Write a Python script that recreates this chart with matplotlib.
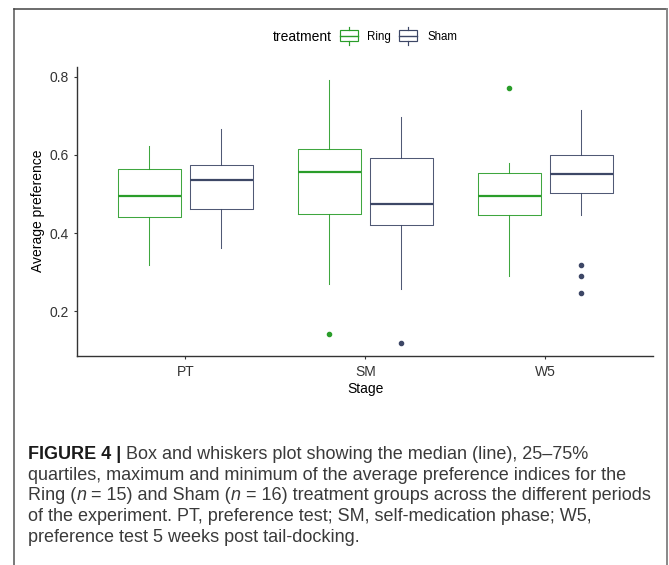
import matplotlib
matplotlib.use("Agg")
import matplotlib.pyplot as plt
from matplotlib.lines import Line2D
from matplotlib.patches import Rectangle

# ---------------- data ----------------
stages = ["PT", "SM", "W5"]
treatments = ["Ring", "Sham"]
y_ticks = [0.2, 0.4, 0.6, 0.8]
y_ticklabels = ["0.2", "0.4", "0.6", "0.8"]

ring_whislo = [0.319, 0.270, 0.290]
ring_q1 = [0.440, 0.449, 0.447]
ring_med = [0.495, 0.557, 0.495]
ring_q3 = [0.563, 0.615, 0.553]
ring_whishi = [0.622, 0.791, 0.580]
ring_fliers = [[], [0.142], [0.771]]

sham_whislo = [0.362, 0.256, 0.447]
sham_q1 = [0.461, 0.420, 0.503]
sham_med = [0.536, 0.474, 0.551]
sham_q3 = [0.575, 0.591, 0.600]
sham_whishi = [0.667, 0.696, 0.716]
sham_fliers = [[], [0.118], [0.319, 0.291, 0.247]]

# caption: list of lines, each a list of (text, style) runs
caption_lines = [
    [("FIGURE 4 | ", "bold"), ("Box and whiskers plot showing the median (line), 25–75%", "normal")],
    [("quartiles, maximum and minimum of the average preference indices for the", "normal")],
    [("Ring (", "normal"), ("n", "italic"), (" = 15) and Sham (", "normal"), ("n", "italic"),
     (" = 16) treatment groups across the different periods", "normal")],
    [("of the experiment. PT, preference test; SM, self-medication phase; W5,", "normal")],
    [("preference test 5 weeks post tail-docking.", "normal")],
]

# ---------------- style ----------------
plt.rcParams["font.family"] = ["Liberation Sans", "DejaVu Sans"]

RING = "#2a9d2a"
SHAM = "#3d4766"
W, H = 669, 565

fig = plt.figure(figsize=(W / 100, H / 100), dpi=100)
fig.patch.set_facecolor("white")

def fx(px):
    return px / W

def fy(py):
    return 1 - py / H

ax = fig.add_axes([fx(77.3), fy(355.7), fx(653.3) - fx(77.3), fy(66.7) - fy(355.7)])

groups = [
    (RING, -0.2, ring_whislo, ring_q1, ring_med, ring_q3, ring_whishi, ring_fliers),
    (SHAM, 0.2, sham_whislo, sham_q1, sham_med, sham_q3, sham_whishi, sham_fliers),
]
for color, off, wlo, q1, med, q3, whi, fl in groups:
    stats = [dict(whislo=wlo[i], q1=q1[i], med=med[i], q3=q3[i], whishi=whi[i], fliers=fl[i])
             for i in range(len(stages))]
    pos = [i + 1 + off for i in range(len(stages))]
    ax.bxp(stats, positions=pos, widths=0.35, showcaps=False, manage_ticks=False,
           boxprops=dict(color=color, linewidth=0.75, alpha=0.9),
           whiskerprops=dict(color=color, linewidth=0.75, alpha=0.9),
           medianprops=dict(color=color, linewidth=1.6, solid_capstyle="butt"),
           flierprops=dict(marker="o", markerfacecolor=color, markeredgecolor=color,
                           markersize=3.0, linestyle="none"))

ax.set_xlim(0.4, 3.6)
ax.set_ylim(0.086, 0.826)
ax.set_xticks([1, 2, 3])
ax.set_xticklabels(stages)
ax.set_yticks(y_ticks)
ax.set_yticklabels(y_ticklabels)
for s in ["top", "right"]:
    ax.spines[s].set_visible(False)
for s in ["left", "bottom"]:
    ax.spines[s].set_color("#333333")
    ax.spines[s].set_linewidth(1.0)
ax.tick_params(axis="both", direction="out", length=2.5, width=0.8, color="#333333",
               labelsize=10, labelcolor="#333333", pad=3.5)
ax.tick_params(axis="x", pad=4.5)
ax.set_ylabel("Average preference", fontsize=10, labelpad=3.5, color="black")
ax.set_xlabel("Stage", fontsize=10, labelpad=2, color="black")

# ---------------- legend (manual, horizontal) ----------------
fig.text(fx(272.5), fy(36.7), "treatment", fontsize=10, ha="left", va="center", color="black")

def legend_key(x0, color):
    x1 = x0 + 18
    xc = (x0 + x1) / 2
    fig.add_artist(Rectangle((fx(x0), fy(41)), fx(x1) - fx(x0), fy(30) - fy(41),
                             transform=fig.transFigure, fill=False, edgecolor=color, lw=0.85))
    fig.add_artist(Line2D([fx(x0), fx(x1)], [fy(35.7), fy(35.7)], transform=fig.transFigure,
                          color=color, lw=1.0))
    fig.add_artist(Line2D([fx(xc), fx(xc)], [fy(27), fy(30)], transform=fig.transFigure,
                          color=color, lw=0.85))
    fig.add_artist(Line2D([fx(xc), fx(xc)], [fy(41), fy(44.5)], transform=fig.transFigure,
                          color=color, lw=0.85))

legend_key(340, RING)
fig.text(fx(367), fy(36.7), treatments[0], fontsize=8.3, ha="left", va="center", color="black")
legend_key(399, SHAM)
fig.text(fx(427), fy(36.7), treatments[1], fontsize=8.3, ha="left", va="center", color="black")

# ---------------- outer frame ----------------
fig.add_artist(Line2D([fx(14), fx(14)], [fy(8.5), 0], transform=fig.transFigure, color="#555555", lw=1.1))
fig.add_artist(Line2D([fx(14), fx(667)], [fy(8.5), fy(8.5)], transform=fig.transFigure, color="#444444", lw=1.1))
fig.add_artist(Line2D([fx(667), fx(667)], [fy(8.5), 0], transform=fig.transFigure, color="#888888", lw=1.4))

# ---------------- caption (runs with mixed styles) ----------------
CAP_SIZE = 13
renderer = fig.canvas.get_renderer()
style_kw = {
    "normal": dict(fontsize=CAP_SIZE, color="#3a3a3a"),
    "bold": dict(fontsize=CAP_SIZE, color="#1a1a1a", fontweight="bold"),
    "italic": dict(fontsize=CAP_SIZE, color="#3a3a3a", fontstyle="italic"),
}

def advance(s, kw):
    t1 = fig.text(0, 0, "|" + s + "|", **kw)
    w1 = t1.get_window_extent(renderer).width
    t1.remove()
    t2 = fig.text(0, 0, "||", **kw)
    w2 = t2.get_window_extent(renderer).width
    t2.remove()
    return w1 - w2

baselines = [459, 480, 500.5, 521, 542]
for runs, b in zip(caption_lines, baselines):
    x = 28.0
    for text, style in runs:
        kw = style_kw[style]
        stripped = text.lstrip(" ")
        lead = text[: len(text) - len(stripped)]
        xs = x + (advance(lead, kw) if lead else 0)
        core = stripped.rstrip(" ")
        if core:
            fig.text(fx(xs), fy(b), core, ha="left", va="baseline", **kw)
        x += advance(text, kw)

fig.savefig("out.png", dpi=100)
